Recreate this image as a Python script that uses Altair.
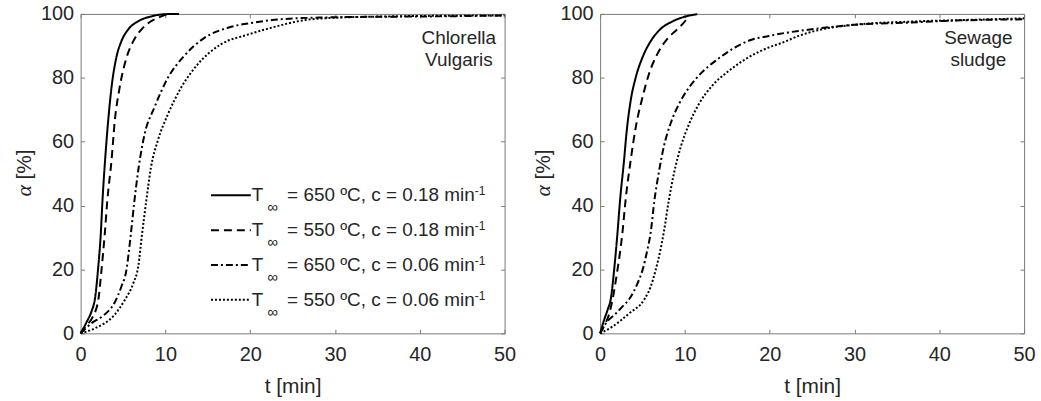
import altair as alt
import pandas as pd

# ---------------- data ----------------
series_names = ["650_018", "550_018", "650_006", "550_006"]
legend_texts = ["= 650 ºC, c = 0.18 min", "= 550 ºC, c = 0.18 min",
                "= 650 ºC, c = 0.06 min", "= 550 ºC, c = 0.06 min"]
dash_patterns = [[1, 0], [8, 5], [7, 3, 2, 3], [2, 2]]
x_ticks = [0, 10, 20, 30, 40, 50]
y_ticks = [0, 20, 40, 60, 80, 100]
panel_labels = ["Chlorella\nVulgaris", "Sewage\nsludge"]

# Chlorella Vulgaris
cv_650_018_t = [0, 0.7, 1.3, 1.7, 2.08, 2.38, 2.58, 2.88, 3.25, 3.64, 4.2, 4.8, 5.6, 6.8, 8.3, 9.9, 11.6]
cv_650_018_a = [0, 3.5, 7, 11, 20.8, 31.2, 41.6, 54, 66.5, 76.9, 86.2, 91.4, 95.1, 97.7, 99.2, 99.9, 100]
cv_550_018_t = [0, 0.7, 1.4, 2.08, 2.46, 2.85, 3.15, 3.64, 4.03, 4.6, 5.4, 6.2, 7.16, 8.3, 9.5, 10.1]
cv_550_018_a = [0, 2.5, 5.0, 10.4, 19.8, 31.2, 41.6, 54, 66.5, 76.9, 86.2, 91.4, 95.1, 97.7, 99.2, 99.9]
cv_650_006_t = [0, 1.3, 2.6, 4.0, 4.8, 5.4, 5.9, 6.35, 6.85, 7.55, 8.7, 10.3, 12.2, 14.6, 17.3, 20.5, 24, 29, 35, 40.8, 50]
cv_650_006_a = [0, 3.2, 5.4, 9.6, 14.6, 19.8, 30.5, 41.6, 52, 62.4, 70.7, 80, 86.8, 92.5, 95.6, 97.3, 98.4, 98.9, 99.1, 99.2, 99.5]
cv_550_006_t = [0, 1.7, 4.0, 5.2, 6.2, 6.8, 7.25, 7.75, 8.3, 9.1, 10.3, 11.85, 13.8, 16.5, 19.7, 22.4, 26.3, 30, 36, 42, 50]
cv_550_006_a = [0, 1.6, 5.8, 10.4, 15.6, 21.0, 31.2, 41.6, 52, 60.3, 68.6, 76.9, 84.2, 90.4, 93.5, 95.6, 98.0, 98.8, 99.2, 99.4, 99.5]

# Sewage sludge
ss_650_018_t = [0, 0.47, 0.9, 1.26, 1.65, 2.04, 2.35, 2.82, 3.1, 3.6, 4.2, 5.0, 6.0, 7.1, 8.5, 10.1, 11.45]
ss_650_018_a = [0, 4.2, 7.5, 10.8, 19.8, 31.2, 41.6, 54.1, 62.4, 72.8, 80.1, 86.4, 91.6, 95.2, 97.6, 99.2, 99.9]
ss_550_018_t = [0, 0.6, 1.0, 1.45, 2.04, 2.62, 3.0, 3.6, 4.2, 5.0, 5.76, 6.74, 7.9, 9.1, 10.1, 10.4]
ss_550_018_a = [0, 3.0, 5.5, 10.4, 19.8, 31.2, 41.6, 54.1, 64.5, 73.9, 81.2, 87.4, 92.1, 95.2, 98.0, 99.2]
ss_650_006_t = [0, 0.67, 1.85, 2.6, 3.4, 4.4, 5.0, 5.56, 5.96, 6.4, 6.9, 7.5, 8.3, 9.3, 10.5, 12.0, 13.6, 15.6, 17.5, 19.9, 22.2, 25, 30, 36.7, 40.7, 50]
ss_650_006_a = [0, 3.1, 6.2, 8.3, 10.6, 15.6, 19.8, 26, 31.5, 41.6, 50, 58.3, 65.6, 71.8, 77, 81.7, 85.3, 89, 91.6, 93.1, 94.2, 95.2, 96.6, 97.3, 97.8, 98.3]
ss_550_006_t = [0, 1.45, 3.4, 5.2, 5.96, 6.55, 7.1, 7.5, 8.1, 8.7, 9.5, 10.5, 11.65, 13.2, 15.2, 17.5, 19.9, 21.5, 23.4, 26.2, 30, 36.7, 43, 50]
ss_550_006_a = [0, 2.1, 6.2, 10.6, 14.6, 19.8, 26, 31.5, 41.6, 50, 58.3, 65.6, 71.8, 77.5, 82.2, 86.4, 89.5, 91.0, 93.1, 95.2, 96.6, 97.6, 98.1, 98.6]

W, H = 426, 321
FONT = "Liberation Sans"
TXT = "#262626"
AX = "#7a7a7a"


def frame(pairs):
    rows = []
    for name, (ts, vals) in zip(series_names, pairs):
        for i, (t, a) in enumerate(zip(ts, vals)):
            rows.append({"s": name, "t": t, "a": a, "i": i})
    return pd.DataFrame(rows)


df_cv = frame([(cv_650_018_t, cv_650_018_a), (cv_550_018_t, cv_550_018_a),
               (cv_650_006_t, cv_650_006_a), (cv_550_006_t, cv_550_006_a)])
df_ss = frame([(ss_650_018_t, ss_650_018_a), (ss_550_018_t, ss_550_018_a),
               (ss_650_006_t, ss_650_006_a), (ss_550_006_t, ss_550_006_a)])

xscale = alt.Scale(domain=[0, 50], nice=False, zero=False)
yscale = alt.Scale(domain=[0, 100], nice=False)


def one_text(txt, x, y, size=19, font=FONT, style="normal", align="left",
             baseline="alphabetic", angle=0, line_height=None):
    kw = dict(font=font, fontSize=size, fontStyle=style, color=TXT,
              align=align, baseline=baseline, angle=angle)
    if line_height is not None:
        kw["lineBreak"] = "\n"
        kw["lineHeight"] = line_height
    return alt.Chart(pd.DataFrame({"txt": [txt]})).mark_text(**kw).encode(
        text="txt:N", x=alt.value(x), y=alt.value(y))


def panel(df, label, with_legend):
    lines = alt.Chart(df).mark_line(color="black", strokeWidth=2,
                                    interpolate="monotone").encode(
        x=alt.X("t:Q", scale=xscale,
                axis=alt.Axis(orient="bottom", values=x_ticks, offset=-4, tickSize=4,
                              labelPadding=11, labelFlush=False, domain=False,
                              grid=False, title="t [min]", titleY=63,
                              titleBaseline="alphabetic")),
        y=alt.Y("a:Q", scale=yscale,
                axis=alt.Axis(orient="left", values=y_ticks, offset=-4, tickSize=4,
                              labelPadding=7, domain=False, grid=False, title=None)),
        strokeDash=alt.StrokeDash("s:N", scale=alt.Scale(domain=series_names,
                                                         range=dash_patterns),
                                  legend=None),
        order=alt.Order("i:Q"),
    )
    ghost = alt.Chart(df).mark_point(opacity=0).encode(
        x=alt.X("t:Q", scale=xscale,
                axis=alt.Axis(orient="top", values=x_ticks, offset=-4, tickSize=4,
                              labels=False, domain=False, grid=False, title=None)),
        y=alt.Y("a:Q", scale=yscale,
                axis=alt.Axis(orient="right", values=y_ticks, offset=-4, tickSize=4,
                              labels=False, domain=False, grid=False, title=None)),
    )
    layers = [lines, ghost]
    # y-axis title: italic alpha + [%]
    layers.append(one_text("α", -50, H / 2 + 23, size=22, font="Liberation Serif",
                           style="italic", angle=270))
    layers.append(one_text("[%]", -50, H / 2 + 6, size=21, angle=270))
    # panel label
    layers.append(one_text(label, 380, 30, size=19, align="center", line_height=22))
    if with_legend:
        for k, (name, txt) in enumerate(zip(series_names, legend_texts)):
            yk = 182.3 + 35 * k
            layers.append(
                alt.Chart(pd.DataFrame({"s": [name]})).mark_rule(
                    color="black", strokeWidth=2, strokeDash=dash_patterns[k]).encode(
                    x=alt.value(131), x2=alt.value(171), y=alt.value(yk)))
            layers.append(one_text("T", 172, yk + 6, size=19))
            layers.append(one_text("∞", 187.5, yk + 17, size=15))
            layers.append(one_text(txt, 207.5, yk + 6, size=19))
            layers.append(one_text("-1", 396, yk + 0, size=12))
    return alt.layer(*layers).resolve_axis(x="independent", y="independent").properties(
        width=W, height=H)


left = panel(df_cv, panel_labels[0], True)
right = panel(df_ss, panel_labels[1], False)

chart = alt.hconcat(left, right, spacing=96, bounds="flush").properties(
    padding={"left": 12, "top": 2, "right": 5, "bottom": 2}, background="white"
).configure_view(stroke=AX, strokeWidth=1).configure_axis(
    labelFont=FONT, labelFontSize=20, labelColor=TXT, tickColor=AX, tickWidth=1,
    titleFont=FONT, titleFontSize=21, titleColor=TXT, titleFontWeight="normal"
)

chart.save("out.html", embed_options={"renderer": "svg", "actions": False})
